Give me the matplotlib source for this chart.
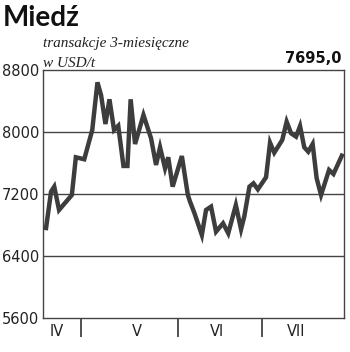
################################################
# Miedz - transakcje 3-miesieczne, USD/t
################################################
import matplotlib.pyplot as plt

################################################
# Data

# trading day position (x) and price (USD/t)
days = [0.75, 2, 2.8, 4, 7.2, 8.2, 10.3, 12.3, 13.6, 14.5, 15.6, 16.6,
        17.75, 18.8, 20.1, 21.1, 21.9, 23, 25.1, 27, 28.25, 29.25, 30.5,
        31.3, 32.4, 34.7, 36.2, 36.75, 37.8, 39.7, 40.75, 42, 43.25, 45,
        46.3, 48.2, 49.5, 50.3, 51.6, 52.6, 53.7, 55.75, 56.75, 57.8,
        59.8, 60.9, 62, 63.25, 64.25, 65.3, 66.3, 67.4, 68.4, 69.5, 71.5,
        72.6, 74.7]
price = [6761, 7230, 7295, 6994, 7187, 7674, 7648, 8026, 8641, 8477, 8103,
         8422, 8026, 8080, 7562, 7562, 8422, 7845, 8220, 7919, 7575, 7803,
         7532, 7674, 7295, 7690, 7187, 7101, 6960, 6671, 6994, 7037, 6714,
         6822, 6693, 7058, 6745, 6908, 7295, 7338, 7260, 7416, 7862, 7733,
         7897, 8133, 7983, 7940, 8077, 7803, 7746, 7845, 7403, 7187, 7510,
         7458, 7695]

month_edges = [9.5, 33.75, 54.75]
month_pos = [3.5, 23.5, 43.4, 63.2]
month_labels = ['IV', 'V', 'VI', 'VII']
y_ticks = [5600, 6400, 7200, 8000, 8800]
last_value = '7695,0'

################################################
# Plot

dark = '#3d3d3d'
fig = plt.figure(figsize=(3.5, 3.52), dpi=100)
ax = fig.add_axes([0.123, 0.0966, 0.86, 0.7045])

for v in y_ticks[1:-1]:
    ax.axhline(v, color='#444444', lw=1.0, zorder=1)
ax.plot(days, price, color=dark, lw=3.2, solid_joinstyle='miter', zorder=3)

ax.set_xlim(0, 75.25)
ax.set_ylim(5600, 8800)
ax.set_yticks(y_ticks)
ax.tick_params(axis='y', length=0, pad=3, labelsize=10.5, colors='#222222')

ax.set_xticks(month_edges)
ax.set_xticklabels([])
ax.tick_params(axis='x', which='major', length=14, width=1.2,
               color='#333333', direction='out')
ax.set_xticks(month_pos, minor=True)
ax.set_xticklabels(month_labels, minor=True)
ax.tick_params(axis='x', which='minor', length=0, pad=4, labelsize=10.5,
               colors='#222222')

for s in ax.spines.values():
    s.set_color('#444444')
    s.set_linewidth(1.0)

fig.text(0.008, 0.948, 'Miedź', fontsize=20, fontweight='bold',
         family='Lato', va='center', ha='left', color='#111111')
fig.text(0.123, 0.876, 'transakcje 3-miesięczne', fontsize=11,
         style='italic', family='Liberation Serif', va='center', color='#222222')
fig.text(0.123, 0.82, 'w USD/t', fontsize=11,
         style='italic', family='Liberation Serif', va='center', color='#222222')
fig.text(0.977, 0.835, last_value, fontsize=10.5, fontweight='bold',
         va='center', ha='right', color='#111111')

plt.savefig('out.png', dpi=100)
